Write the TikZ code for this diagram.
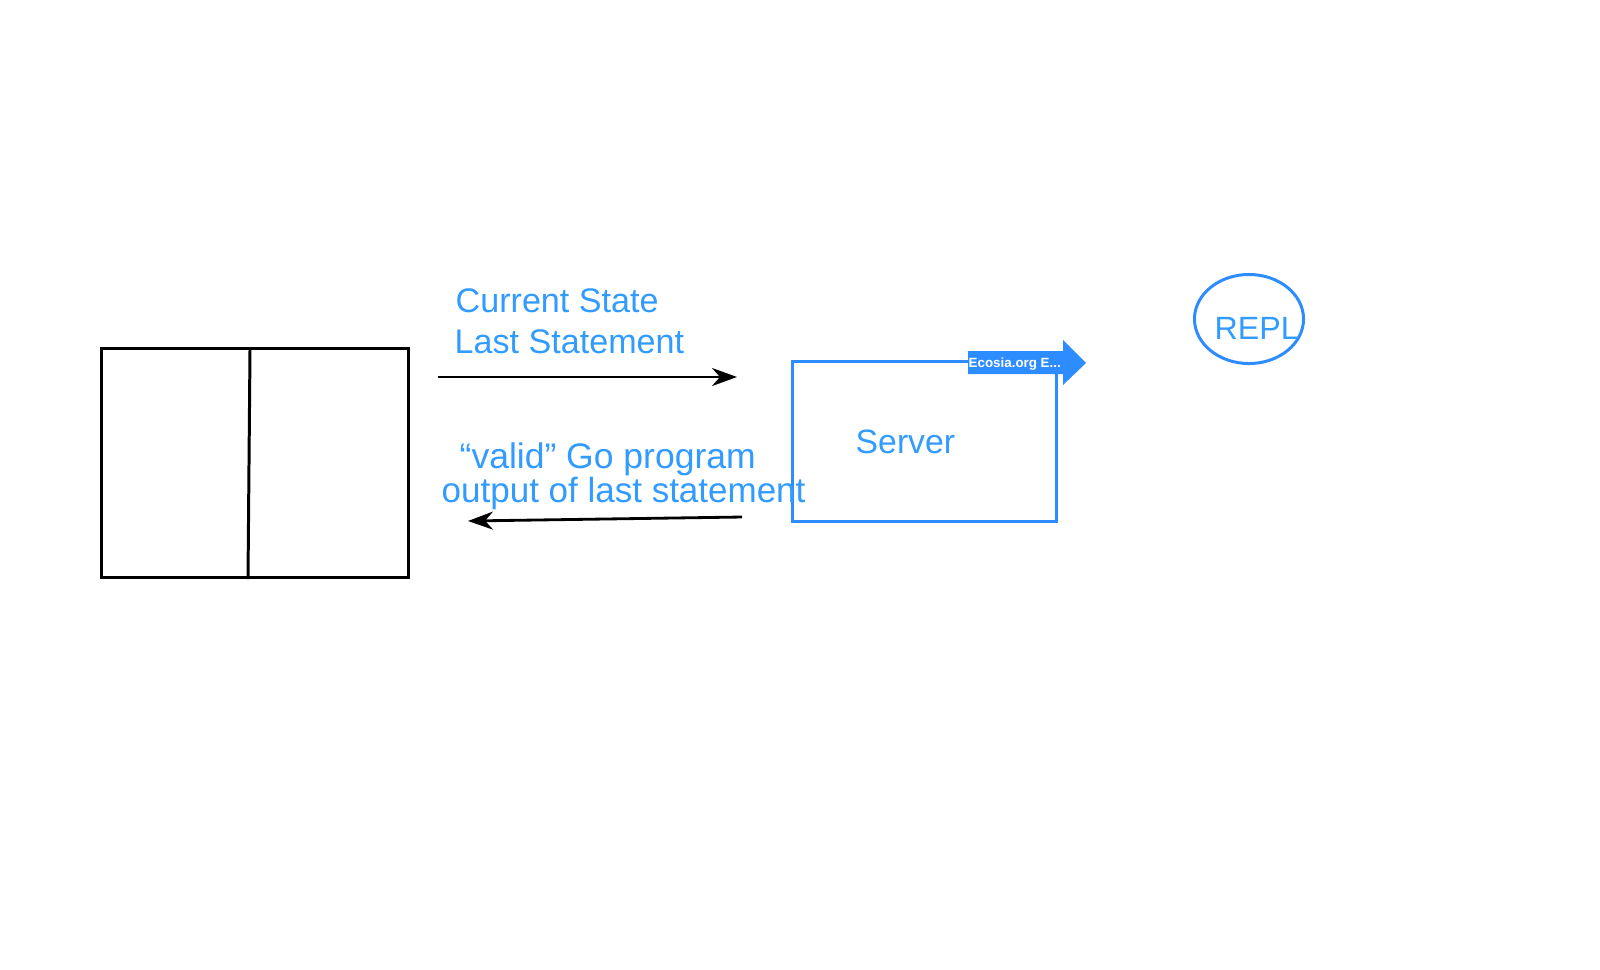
\documentclass[tikz,border=0pt]{standalone}
\usepackage{fontspec}
\setmainfont{Liberation Sans}
\usetikzlibrary{arrows.meta, shapes.geometric}
\definecolor{replblue}{RGB}{45,140,255}
\definecolor{textblue}{RGB}{50,155,255}
\tikzset{
  boxline/.style={draw, line width=0.85pt, inner sep=0pt},
  bluetext/.style={textblue, anchor=base west, inner sep=0pt, font=\fontsize{#1}{11}\selectfont},
  bluetext/.default=9.6,
  flow/.style={-{Stealth[length=2.5mm,width=1.8mm,inset=0.8mm]}, line width=0.65pt}
}

\begin{document}
\begin{tikzpicture}[x=0.01cm, y=-0.01cm]
  \useasboundingbox (0,0) rectangle (1600,969);

  % Client box
  \node[boxline, black, minimum width=3.06cm, minimum height=2.28cm] (client) at (255,463) {};
  \coordinate (splittop) at (250,350);
  \coordinate (splitbottom) at (248,579);
  \draw[black, line width=0.85pt] (splittop) -- (splitbottom);

  % Server box
  \node[boxline, replblue, minimum width=2.63cm, minimum height=1.59cm] (server) at (924.5,441.5) {};
  \node[bluetext] (servertext) at (855,453) {Server};

  % Tab on the server box
  \fill[replblue] (968,351) -- (1063,351) -- (1063,340) -- (1086,363) -- (1063,385) -- (1063,374) -- (968,374) -- cycle;
  \node[white, anchor=base west, inner sep=0pt, font=\fontsize{3.8}{4}\selectfont\bfseries] (tabtext) at (968,367) {Ecosia.org E...};

  % REPL
  \node[boxline, replblue, ellipse, minimum width=1.09cm, minimum height=0.89cm] (repl) at (1249,319) {};
  \node[bluetext=9.15] (repltext) at (1214,339) {REPL};

  % Arrow to server
  \coordinate (outstart) at (438,377);
  \coordinate (outend) at (737,377);
  \draw[flow] (outstart) -- (outend);
  \node[bluetext=9.7] (state) at (455,312) {Current State};
  \node[bluetext=9.7] (statement) at (454,353) {Last Statement};

  % Arrow back from server
  \coordinate (backstart) at (742,517);
  \coordinate (backend) at (468,521);
  \draw[flow, line width=0.8pt] (backstart) -- (backend);
  \node[bluetext=10.1] (valid) at (459,468) {“valid” Go program};
  \node[bluetext=9.95] (output) at (441,502) {output of last statement};
\end{tikzpicture}
\end{document}
